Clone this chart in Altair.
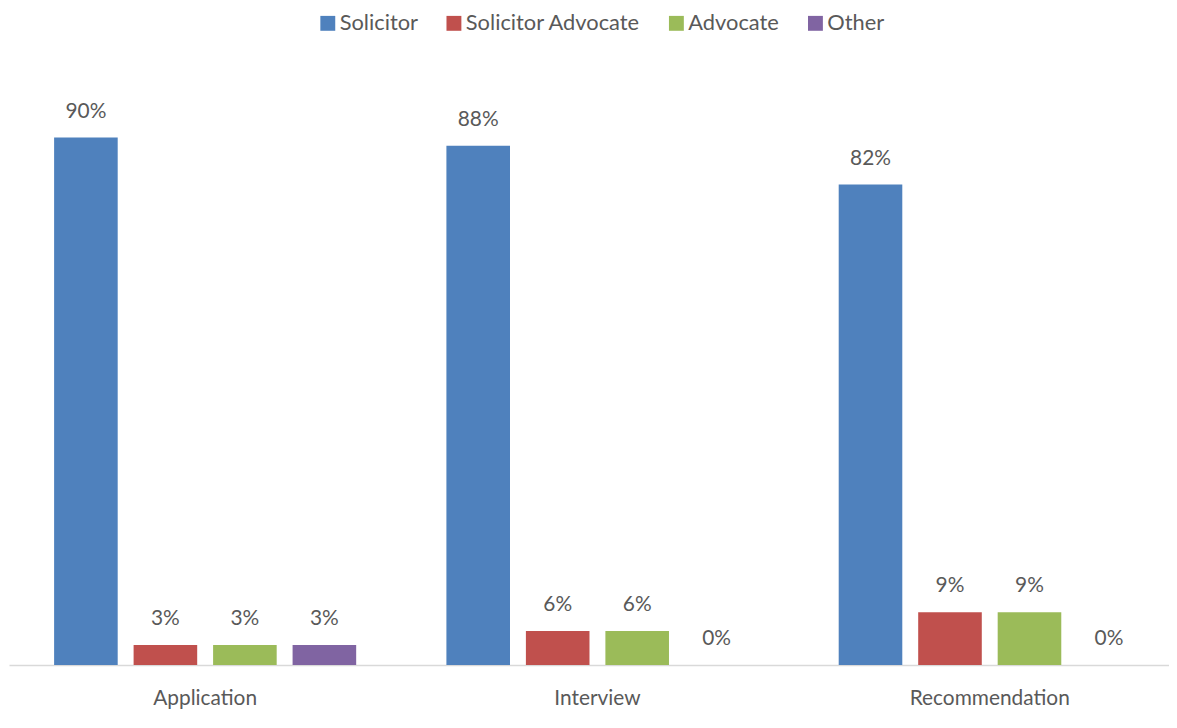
import altair as alt
import pandas as pd

stages = ["Application", "Interview", "Recommendation"]
roles = ["Solicitor", "Solicitor Advocate", "Advocate", "Other"]
solicitor = [90.0, 88.6, 82.0]
solicitor_advocate = [3.4, 5.8, 9.0]
advocate = [3.4, 5.8, 9.0]
other = [3.4, 0.0, 0.0]
labels = {
    "Solicitor": ["90%", "88%", "82%"],
    "Solicitor Advocate": ["3%", "6%", "9%"],
    "Advocate": ["3%", "6%", "9%"],
    "Other": ["3%", "0%", "0%"],
}
colors = ["#4F81BD", "#C0504D", "#9BBB59", "#8064A2"]

series = {
    "Solicitor": solicitor,
    "Solicitor Advocate": solicitor_advocate,
    "Advocate": advocate,
    "Other": other,
}
rows = []
for r in roles:
    for i, s in enumerate(stages):
        rows.append({"stage": s, "role": r, "value": series[r][i], "label": labels[r][i]})
df = pd.DataFrame(rows)

FONT = "Lato"
GRAY = "#595959"

x = alt.X("stage:N", sort=stages, title=None,
          scale=alt.Scale(paddingInner=0.23, paddingOuter=0.115),
          axis=alt.Axis(labelAngle=0, ticks=False, domainColor="#D9D9D9", domainWidth=1.5,
                        labelFont=FONT, labelFontSize=21, labelColor=GRAY, labelPadding=23))
xo = alt.XOffset("role:N", sort=roles, scale=alt.Scale(paddingInner=0.2, paddingOuter=0))
y = alt.Y("value:Q", scale=alt.Scale(domain=[0, 100]), axis=None)

bars = alt.Chart(df).mark_bar().encode(
    x=x, xOffset=xo, y=y,
    color=alt.Color("role:N", sort=roles, scale=alt.Scale(domain=roles, range=colors),
                    legend=alt.Legend(title=None, orient="none", direction="horizontal",
                                      legendX=310, legendY=-67, symbolType="square",
                                      symbolSize=225, symbolStrokeWidth=0,
                                      labelFont=FONT, labelFontSize=22, labelColor=GRAY,
                                      labelLimit=400,
                                      columnPadding=25, symbolOffset=0, labelOffset=1)),
)
text = alt.Chart(df).mark_text(baseline="middle", dy=-26, font=FONT, fontSize=21, color=GRAY).encode(
    x=alt.X("stage:N", sort=stages), xOffset=alt.XOffset("role:N", sort=roles), y=y, text="label:N"
)

chart = (bars + text).properties(
    width=1185, height=590,
    padding={"left": 1, "top": 69, "right": -17, "bottom": 50},
    autosize=alt.AutoSizeParams(type="none"),
).configure_view(stroke=None)

chart.save("out.html", embed_options={"renderer": "svg", "actions": False})
